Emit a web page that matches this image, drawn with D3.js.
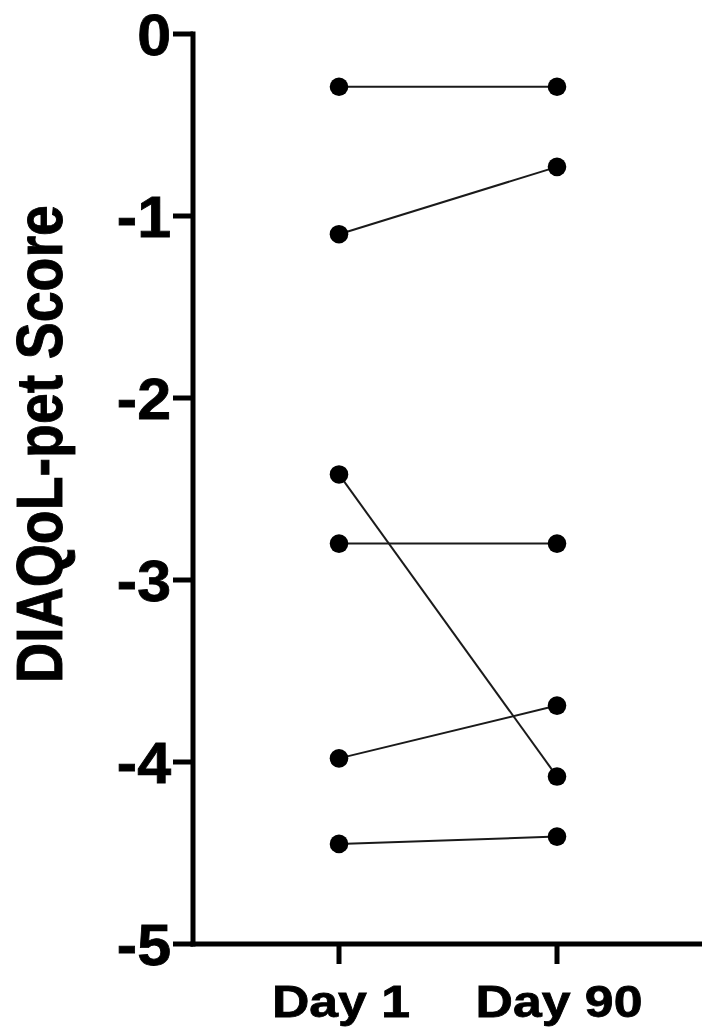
<!DOCTYPE html>
<html>
<head>
<meta charset="utf-8">
<script src="https://cdn.jsdelivr.net/npm/d3@7"></script>
<style>
  html, body { margin: 0; padding: 0; background: #fff; }
  svg { display: block; }
  text { font-family: "Liberation Sans", Arial, Helvetica, sans-serif; font-weight: bold; fill: #000; stroke: #000; stroke-width: 0.8px; }
</style>
</head>
<body>
<svg id="chart" width="702" height="1032"></svg>
<script>
const categories = ["Day 1", "Day 90"];
const day1Values = [-0.29, -1.10, -2.42, -2.80, -3.98, -4.45];
const day90Values = [-0.29, -0.73, -4.08, -2.80, -3.69, -4.41];
const yTicks = [0, -1, -2, -3, -4, -5];
const yLabel = "DIAQoL-pet Score";

const pairs = day1Values.map((v, i) => [v, day90Values[i]]);

const svg = d3.select("#chart");
const axisX = 193, axisBottom = 944, axisTop = 34, xRight = 702;

const y = d3.scaleLinear().domain([-5, 0]).range([axisBottom, axisTop]);
const x = d3.scalePoint().domain(categories).range([339, 557]);

// Y axis
const yAx = svg.append("g");
yAx.append("line").attr("x1", axisX).attr("x2", axisX)
  .attr("y1", y(0) - 2.5).attr("y2", axisBottom + 2.5)
  .attr("stroke", "#000").attr("stroke-width", 5);
yTicks.forEach(t => {
  yAx.append("line").attr("x1", axisX - 20).attr("x2", axisX)
    .attr("y1", y(t)).attr("y2", y(t))
    .attr("stroke", "#000").attr("stroke-width", 5);
  yAx.append("text")
    .attr("transform", `translate(171, ${y(t) + 21}) scale(1.05,1)`)
    .attr("text-anchor", "end")
    .attr("font-size", 58)
    .text(t === 0 ? "0" : "-" + Math.abs(t));
});

// X axis
const xAx = svg.append("g");
xAx.append("line").attr("x1", axisX - 2.5).attr("x2", xRight)
  .attr("y1", axisBottom).attr("y2", axisBottom)
  .attr("stroke", "#000").attr("stroke-width", 5);
categories.forEach(c => {
  xAx.append("line").attr("x1", x(c)).attr("x2", x(c))
    .attr("y1", axisBottom).attr("y2", axisBottom + 20)
    .attr("stroke", "#000").attr("stroke-width", 5);
  xAx.append("text")
    .attr("transform", `translate(${x(c) + 2}, 1017) scale(1.15,1)`)
    .attr("text-anchor", "middle")
    .attr("font-size", 45)
    .text(c);
});

// Y label
svg.append("text")
  .attr("transform", "translate(62, 444) rotate(-90) scale(1,1.18)")
  .attr("text-anchor", "middle")
  .attr("font-size", 55.5)
  .text(yLabel);

// Lines and points
const g = svg.append("g");
g.selectAll("line.pair").data(pairs).join("line")
  .attr("class", "pair")
  .attr("x1", x(categories[0])).attr("x2", x(categories[1]))
  .attr("y1", d => y(d[0])).attr("y2", d => y(d[1]))
  .attr("stroke", "#1a1a1a").attr("stroke-width", 2);

const pts = [];
pairs.forEach(d => { pts.push([categories[0], d[0]]); pts.push([categories[1], d[1]]); });
g.selectAll("circle").data(pts).join("circle")
  .attr("cx", d => x(d[0])).attr("cy", d => y(d[1]))
  .attr("r", 9.3).attr("fill", "#000");
</script>
</body>
</html>
